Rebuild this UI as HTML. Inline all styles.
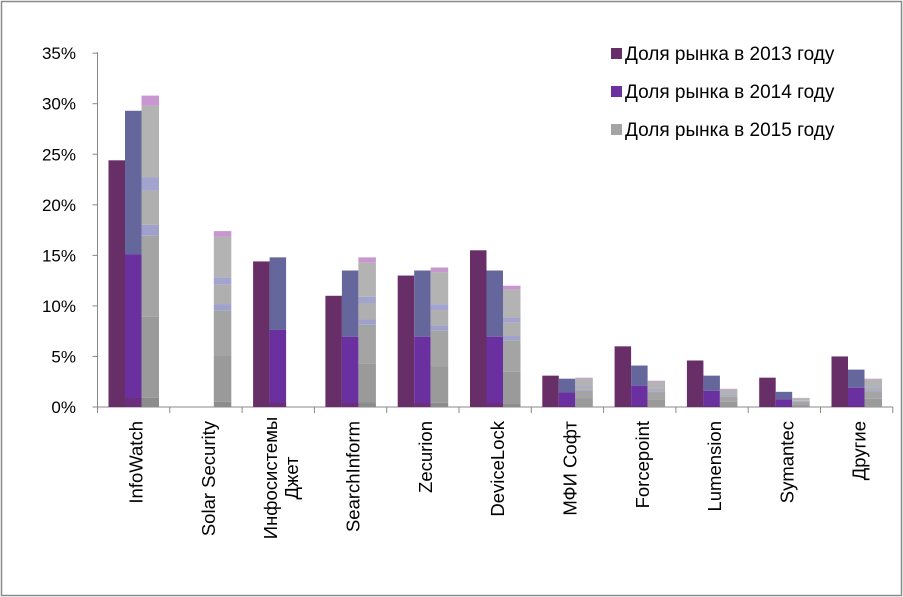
<!DOCTYPE html><html><head><meta charset="utf-8"><style>body{margin:0;background:#fff}svg{display:block}text{font-family:"Liberation Sans","DejaVu Sans",sans-serif;fill:#000}</style></head><body>
<svg width="903" height="597" xmlns="http://www.w3.org/2000/svg">
<rect x="1.5" y="1.5" width="900" height="594" fill="#fff" stroke="#8a8a8a" stroke-width="1.5"/>
<g id="g"></g>
</svg>
<script>
const ns="http://www.w3.org/2000/svg",g=document.getElementById('g');
function el(t,a,txt){const e=document.createElementNS(ns,t);for(const k in a)e.setAttribute(k,a[k]);if(txt!==undefined)e.textContent=txt;g.appendChild(e);return e;}
const X0=97.5,Y0=407,S=10.11,W=72.3;
el('line',{x1:X0,y1:52,x2:X0,y2:Y0,stroke:'#888'});
el('line',{x1:X0,y1:Y0,x2:X0+11*W,y2:Y0,stroke:'#888'});
for(let i=0;i<=7;i++){const y=Y0-i*5*S;el('line',{x1:X0-5,y1:y,x2:X0,y2:y,stroke:'#888'});
el('text',{x:76,y:y+6,'text-anchor':'end','font-size':17},(i*5)+'%');}
for(let i=0;i<=11;i++)el('line',{x1:X0+i*W,y1:Y0,x2:X0+i*W,y2:Y0+6,stroke:'#888'});
const d=[["InfoWatch",24.4,29.3,30.8],["Solar Security",0,0,17.4],["Инфосистемы|Джет",14.4,14.8,0],["SearchInform",11,13.5,14.8],["Zecurion",13,13.5,13.8],["DeviceLock",15.5,13.5,12],["МФИ Софт",3.1,2.8,2.9],["Forcepoint",6,4.1,2.6],["Lumension",4.6,3.1,1.8],["Symantec",2.9,1.5,0.9],["Другие",5,3.7,2.8]];
function seg(x,w,a,b,h,c){el('rect',{x:x,y:Y0-b*h,width:w,height:(b-a)*h,fill:c});}
d.forEach((r,i)=>{const cx=X0+i*W;
 if(r[1]>0){const h=r[1]*S;el('rect',{x:cx+11,y:Y0-h,width:16.5,height:h,fill:'#672e68'});}
 if(r[2]>0){const h=r[2]*S,x=cx+27.5;seg(x,16.5,0.515,1,h,'#65669c');seg(x,16.5,0,0.515,h,'#6a30a0');seg(x,16.5,0,0.03,h,'#6a2e7a');}
 if(r[3]>0){const h=r[3]*S,x=cx+44;const s=[[0,.03,'#8c8c8c'],[.03,.29,'#9a9a9a'],[.29,.55,'#a4a4a4'],[.55,.585,'#a0a0cc'],[.585,.695,'#afafaf'],[.695,.737,'#a3a3d0'],[.737,.967,'#b3b3b3'],[.967,1,'#c897cf']];s.forEach(q=>seg(x,17.5,q[0],q[1],h,q[2]));}
 const lines=r[0].split('|'),tx=cx+W/2+9,ty=421;
 const t=el('text',{transform:`translate(${tx},${ty}) rotate(-90)`,'text-anchor':'end','font-size':18.5});
 lines.forEach((l,j)=>{const s=document.createElementNS(ns,'tspan');s.setAttribute('x',0);s.setAttribute('y',(j-(lines.length-1)/2)*21);s.textContent=l;t.appendChild(s);});
 if(lines.length>1)t.setAttribute('text-anchor','middle'),t.setAttribute('transform',`translate(${tx},${ty+57}) rotate(-90)`);
});
const L=[["Доля рынка в 2013 году","#672e68"],["Доля рынка в 2014 году","#6a30a0"],["Доля рынка в 2015 году","#a4a4a4"]];
L.forEach((l,i)=>{const y=56+i*38;el('rect',{x:611,y:y-8,width:11,height:11,fill:l[1]});el('text',{x:625,y:y+4,'font-size':19},l[0]);});
</script></body></html>
